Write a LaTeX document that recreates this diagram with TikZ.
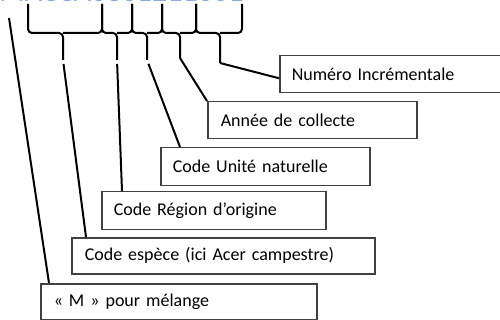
\documentclass[tikz,border=0pt]{standalone}
\usepackage{fontspec}
\setmainfont{Carlito}
\usetikzlibrary{calc}
\definecolor{codeblue}{RGB}{142,170,219}
\definecolor{boxgray}{RGB}{64,64,64}
\tikzset{
  partbox/.style={draw=boxgray,line width=1.5pt,rectangle,anchor=north west,
    inner xsep=12pt,inner ysep=0pt,align=left,font=\fontsize{18}{21}\selectfont},
  brace/.style={line width=2pt,rounded corners=4pt},
  leader/.style={line width=2pt}
}
\begin{document}
\begin{tikzpicture}[x=1pt,y=-1pt]
\useasboundingbox (0,0) rectangle (500,320);
\node[anchor=base west,inner sep=0pt,text=codeblue,font=\fontsize{30}{36}\selectfont] (code) at (-1,2) {MACCA0301211001};
% boxes
\node[partbox,minimum width=240pt,minimum height=37pt,text width=216pt] (num) at (279,55) {Numéro Incrémentale};
\node[partbox,minimum width=209pt,minimum height=37pt,text width=183pt] (annee) at (207,101) {Année de collecte};
\node[partbox,minimum width=209pt,minimum height=38pt,text width=185pt] (unite) at (160,147) {Code Unité naturelle};
\node[partbox,minimum width=224pt,minimum height=38pt,text width=200pt] (region) at (101,191) {Code Région d’origine};
\node[partbox,minimum width=303pt,minimum height=36pt,text width=277pt] (espece) at (71,237) {Code espèce (ici Acer campestre)};
\node[partbox,minimum width=276pt,minimum height=36pt,text width=250pt] (melange) at (40,283) {« M » pour mélange};
% braces under the code
\foreach \xa/\xb/\xm/\ty/\n in {28/102/63/60/1,102/132/117/60/2,132/162/147/60/3,162/196/180/58/4,196/242/220/63/5}{
  \draw[brace] (\xa,4) |- (\xm,33) -- (\xm,\ty) coordinate (t\n);
  \draw[brace] (\xb,4) |- (\xm,33);
}
\coordinate (m0) at (9,18);
% leaders
\draw[leader] (t5) -- ([yshift=-4pt]num.west);
\draw[leader] (t4) -- (annee.north west);
\draw[leader,shorten <=4pt] (t3) -- ([xshift=20pt]unite.north west);
\draw[leader,shorten <=4pt] (t2) -- ([xshift=21pt]region.north west);
\draw[leader,shorten <=4pt] (t1) -- ([xshift=15pt]espece.north west);
\draw[leader] (m0) -- ([xshift=9pt]melange.north west);
\end{tikzpicture}
\end{document}
